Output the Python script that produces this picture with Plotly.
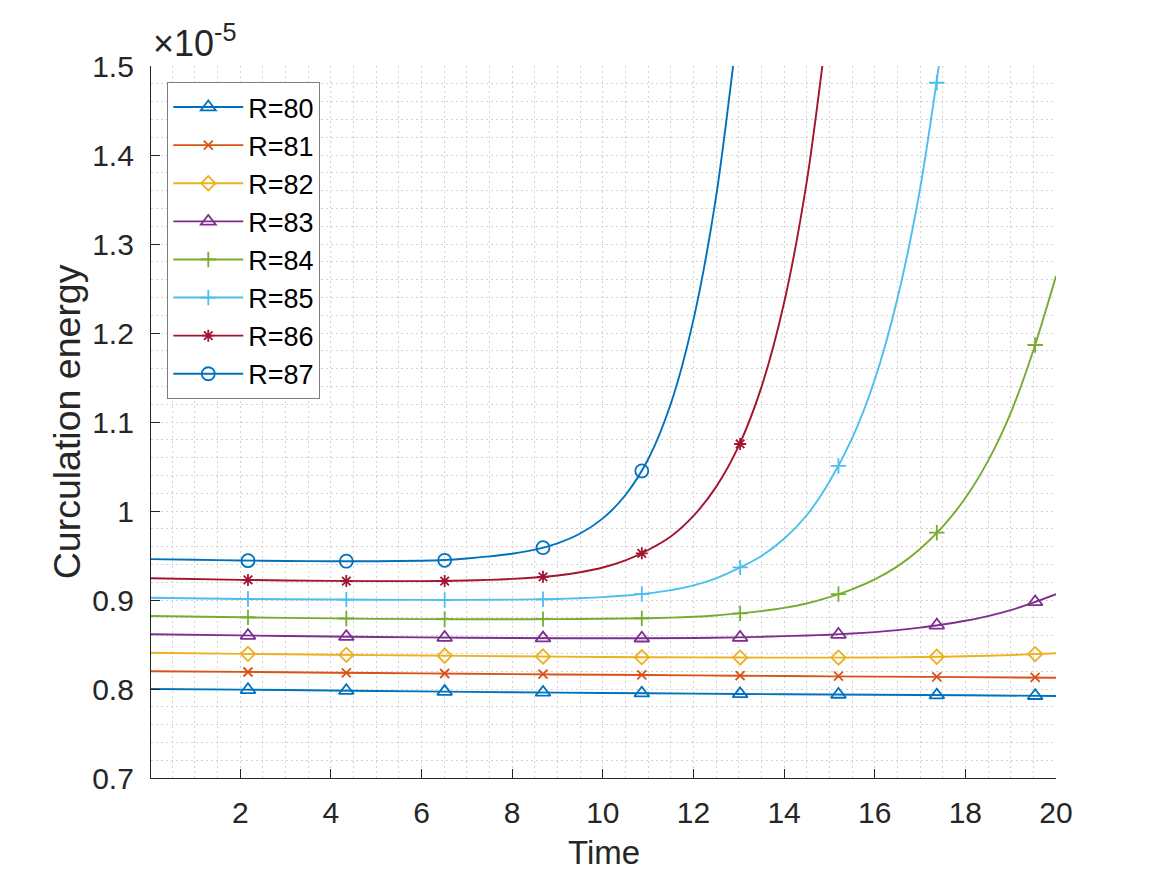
import plotly.graph_objects as go

# values are in units of 1e-5 (shown by the x10^-5 label)
MARK_T = [2.17, 4.34, 6.51, 8.68, 10.86, 13.03, 15.20, 17.37, 19.54]

T80 = [0, 2, 4, 6, 8, 10, 12, 14, 16, 18, 20]
E80 = [0.8000, 0.7993, 0.7983, 0.7973, 0.7963, 0.7955, 0.7948, 0.7941, 0.7935, 0.7929, 0.7922]
M80 = [0.7991, 0.7981, 0.7971, 0.7961, 0.7953, 0.7945, 0.7938, 0.7931, 0.7924]

T81 = [0, 2, 4, 6, 8, 10, 12, 14, 16, 18, 20]
E81 = [0.8200, 0.8192, 0.8183, 0.8175, 0.8167, 0.8160, 0.8153, 0.8146, 0.8139, 0.8133, 0.8127]
M81 = [0.8191, 0.8182, 0.8174, 0.8166, 0.8158, 0.8151, 0.8144, 0.8137, 0.8130]

T82 = [0, 2, 4, 6, 8, 10, 12, 14, 16, 17, 18, 19, 20]
E82 = [0.8408, 0.8395, 0.8385, 0.8377, 0.8368, 0.8360, 0.8355, 0.8352, 0.8354, 0.8359, 0.8368, 0.8381, 0.8402]
M82 = [0.8394, 0.8384, 0.8374, 0.8365, 0.8358, 0.8353, 0.8353, 0.8362, 0.8392]

T83 = [0, 2, 4, 6, 8, 10, 12, 13, 14, 14.5, 15, 15.5, 16, 16.5, 17, 17.5, 18, 18.5, 19, 19.5, 20]
E83 = [0.8615, 0.8602, 0.8590, 0.8580, 0.8573, 0.8570, 0.8573, 0.8580, 0.8594, 0.8601, 0.8610,
       0.8623, 0.8639, 0.8661, 0.8689, 0.8725, 0.8767, 0.8819, 0.8886, 0.8970, 0.9065]
M83 = [0.8600, 0.8588, 0.8578, 0.8572, 0.8570, 0.8578, 0.8612, 0.8716, 0.8978]

T84 = [0, 2, 4, 6, 8, 9, 10, 11, 11.5, 12, 12.5, 13, 13.5, 14, 14.5, 15, 15.5, 16, 16.5,
       17, 17.5, 18, 18.5, 19, 19.5, 20]
E84 = [0.8820, 0.8806, 0.8793, 0.8785, 0.8783, 0.8785, 0.8789, 0.8795, 0.8802, 0.8811, 0.8826,
       0.8850, 0.8875, 0.8911, 0.8961, 0.9032, 0.9120, 0.9231, 0.9378, 0.9574, 0.9825, 1.0146,
       1.0563, 1.1101, 1.1804, 1.2640]
M84 = [0.8805, 0.8792, 0.8784, 0.8785, 0.8795, 0.8850, 0.9067, 0.9756, 1.1865]

T85 = [0, 2, 4, 6, 7, 8, 9, 9.5, 10, 10.5, 11, 11.5, 12, 12.5, 13, 13.5, 14, 14.5, 15,
       15.5, 16, 16.5, 17, 17.5]
E85 = [0.9026, 0.9012, 0.9005, 0.9001, 0.9001, 0.9004, 0.9012, 0.9020, 0.9032, 0.9050, 0.9075,
       0.9111, 0.9165, 0.9244, 0.9358, 0.9495, 0.9688, 0.9952, 1.0328, 1.0815, 1.1475, 1.2385,
       1.3620, 1.5305]
M85 = [0.9011, 0.9004, 0.9000, 0.9008, 0.9067, 0.9367, 1.0506, 1.4812]

T86 = [0, 2, 4, 6, 7, 7.5, 8, 8.5, 9, 9.5, 10, 10.5, 11, 11.5, 12, 12.5, 13, 13.5, 14, 14.5, 15]
E86 = [0.9244, 0.9226, 0.9215, 0.9212, 0.9219, 0.9226, 0.9237, 0.9253, 0.9276, 0.9312, 0.9365,
       0.9445, 0.9562, 0.9713, 0.9945, 1.0271, 1.0731, 1.1392, 1.2340, 1.3700, 1.5645]
M86 = [0.9225, 0.9213, 0.9213, 0.9260, 0.9525, 1.0753]

T87 = [0, 1, 2, 3, 4, 5, 6, 6.5, 7, 7.5, 8, 8.5, 9, 9.5, 10, 10.5, 11, 11.5, 12, 12.5, 13]
E87 = [0.9460, 0.9452, 0.9444, 0.9439, 0.9436, 0.9436, 0.9441, 0.9450, 0.9467, 0.9490, 0.9520,
       0.9566, 0.9637, 0.9747, 0.9917, 1.0180, 1.0581, 1.1205, 1.2150, 1.3535, 1.5535]
M87 = [0.9442, 0.9436, 0.9446, 0.9588, 1.0450]

NAMES = ["R=80", "R=81", "R=82", "R=83", "R=84", "R=85", "R=86", "R=87"]
COLORS = ["#0072BD", "#D95319", "#EDB120", "#7E2F8E", "#77AC30", "#4DBEEE", "#A2142F", "#0072BD"]
SYMBOLS = ["triangle-up-open", "x-thin-open", "diamond-open", "triangle-up-open",
           "cross-thin-open", "cross-thin-open", "asterisk-open", "circle-open"]
SIZES = [13, 9, 11, 13, 11, 11, 10, 13]

Y_TICKS = [0.7, 0.8, 0.9, 1.0, 1.1, 1.2, 1.3, 1.4, 1.5]
Y_TICKTEXT = ["0.7", "0.8", "0.9", "1", "1.1", "1.2", "1.3", "1.4", "1.5"]
X_TICKS = [2, 4, 6, 8, 10, 12, 14, 16, 18, 20]

LINES = [(T80, E80, M80), (T81, E81, M81), (T82, E82, M82), (T83, E83, M83),
         (T84, E84, M84), (T85, E85, M85), (T86, E86, M86), (T87, E87, M87)]

FONT = "Liberation Sans, Arial, Helvetica, sans-serif"
TXT = "#262626"

fig = go.Figure()
for i, (t, e, m) in enumerate(LINES):
    fig.add_trace(go.Scatter(
        x=t, y=e, mode="lines", line=dict(color=COLORS[i], width=1.9, shape="spline", smoothing=0.8),
        legendgroup=NAMES[i], showlegend=False, hoverinfo="skip"))
    mx, my = [], []
    for k, v in enumerate(m):
        mx += [MARK_T[k], None]
        my += [v, None]
    fig.add_trace(go.Scatter(
        x=mx, y=my, mode="lines+markers", name=NAMES[i], legendgroup=NAMES[i],
        connectgaps=False,
        line=dict(color=COLORS[i], width=1.9),
        marker=dict(symbol=SYMBOLS[i], size=SIZES[i], color=COLORS[i],
                    line=dict(color=COLORS[i], width=1.8))))

grid = "#d2d2d2"
gdash = "2px,3px"
fig.update_layout(
    width=1167, height=875,
    margin=dict(l=151, r=111, t=66, b=97),
    paper_bgcolor="white", plot_bgcolor="white",
    font=dict(family=FONT, size=30, color=TXT),
    showlegend=True,
    legend=dict(x=0.018, y=0.9775, xanchor="left", yanchor="top",
                bgcolor="white", bordercolor="#7f7f7f", borderwidth=1,
                font=dict(size=27, color="black"), itemwidth=70, tracegroupgap=0),
    xaxis=dict(range=[0.03, 20], tickvals=X_TICKS, ticks="inside", ticklen=9,
               tickcolor=TXT, tickwidth=1.2, showline=True, linecolor=TXT, linewidth=1.3,
               mirror=False, zeroline=False, showgrid=True, gridcolor=grid, griddash=gdash,
               gridwidth=1, tickfont=dict(size=30, color=TXT), ticklabelstandoff=8,
               minor=dict(dtick=0.5, tick0=0, showgrid=True, gridcolor=grid, griddash=gdash,
                          gridwidth=1, ticks="")),
    yaxis=dict(range=[0.7, 1.5], tickvals=Y_TICKS, ticktext=Y_TICKTEXT, ticks="inside",
               ticklen=9, tickcolor=TXT, tickwidth=1.2, showline=True, linecolor=TXT,
               linewidth=1.3, mirror=False, zeroline=False, showgrid=True, gridcolor=grid,
               griddash=gdash, gridwidth=1, tickfont=dict(size=30, color=TXT),
               ticklabelstandoff=10,
               minor=dict(dtick=0.02, tick0=0.7, showgrid=True, gridcolor=grid,
                          griddash=gdash, gridwidth=1, ticks="")),
    annotations=[
        dict(text="Time", xref="paper", yref="paper", x=0.5, y=-0.105, xanchor="center",
             yanchor="middle", showarrow=False, font=dict(size=33, color=TXT)),
        dict(text="Curculation energy", xref="paper", yref="paper", x=-0.0925, y=0.5,
             xanchor="center", yanchor="middle", textangle=-90, showarrow=False,
             font=dict(size=37.5, color=TXT)),
        dict(text="×10<sup>-5</sup>", xref="paper", yref="paper", x=0.0, y=1.0,
             xanchor="left", yanchor="bottom", xshift=0, yshift=0, showarrow=False,
             font=dict(size=36, color=TXT)),
    ],
)

fig.write_html("out.html")
